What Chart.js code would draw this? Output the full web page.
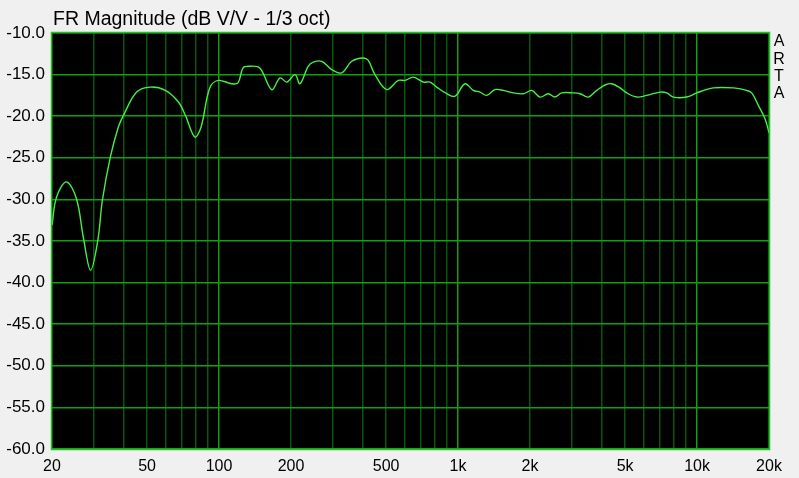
<!DOCTYPE html>
<html>
<head>
<meta charset="utf-8">
<script src="https://cdn.jsdelivr.net/npm/chart.js@4"></script>
<style>
  html, body { margin: 0; padding: 0; background: #f0f0f0; }
  #wrap { width: 799px; height: 478px; }
</style>
</head>
<body>
<div id="wrap"><canvas id="frChart" width="799" height="478"></canvas></div>
<script>
const freqs = [20, 20.9, 23.0, 25.3, 27.1, 29.0, 31.1, 32.5, 35.1, 37.9, 39.8, 45.2, 51.5, 59.6, 67.6, 72.3, 79.2, 84.1, 91.4, 99.2,
  113, 120, 126, 133, 148, 166, 180, 192, 208, 218, 236, 248, 269, 296, 326, 359, 401, 421, 449, 503,
  562, 600, 650, 716, 763, 814, 897, 971, 1069, 1158, 1236, 1318, 1428, 1547, 1703, 1875, 2033, 2202, 2386, 2545,
  2715, 3036, 3238, 3508, 3804, 4121, 4396, 4760, 5078, 5591, 6156, 7000, 7465, 7959, 9049, 9968, 11700, 14180, 16130, 16930,
  18050, 19250, 20000];
const dB = [-33.1, -29.7, -27.9, -29.9, -34.7, -38.5, -34.9, -30.1, -24.9, -21.3, -19.9, -17.1, -16.5, -16.9, -18.3, -19.9, -22.5, -21.3, -16.6, -15.7,
  -16.1, -16.0, -14.2, -14.0, -14.2, -16.8, -15.4, -15.9, -15.0, -16.1, -14.0, -13.5, -13.4, -14.4, -14.8, -13.4, -13.0, -13.3, -15.0, -16.8,
  -15.7, -15.7, -15.3, -15.9, -15.9, -16.5, -17.3, -17.6, -16.1, -16.9, -17.1, -17.5, -16.8, -16.9, -17.2, -17.3, -16.9, -17.7, -17.3, -17.7,
  -17.2, -17.2, -17.3, -17.7, -16.9, -16.25, -16.1, -16.6, -17.2, -17.7, -17.5, -17.1, -17.2, -17.7, -17.7, -17.2, -16.6, -16.6, -16.9, -17.2,
  -18.7, -20.3, -22.0];
const gridFreqs = [20, 30, 40, 50, 60, 70, 80, 90, 100, 200, 300, 400, 500, 600, 700, 800, 900,
  1000, 2000, 3000, 4000, 5000, 6000, 7000, 8000, 9000, 10000, 20000];
const xLabels = { 20: "20", 50: "50", 100: "100", 200: "200", 500: "500", 1000: "1k", 2000: "2k", 5000: "5k", 10000: "10k", 20000: "20k" };
const majorFreqs = [100, 1000, 10000];

const points = freqs.map((f, i) => ({ x: f, y: dB[i] }));
const fontFam = "'Liberation Sans', Arial, sans-serif";

const decor = {
  id: "decor",
  beforeDraw(chart) {
    const { ctx, chartArea: a } = chart;
    ctx.save();
    ctx.fillStyle = "#000";
    ctx.fillRect(a.left, a.top, a.right - a.left, a.bottom - a.top);
    ctx.restore();
  },
  afterDraw(chart) {
    const { ctx, chartArea: a } = chart;
    ctx.save();
    ctx.strokeStyle = "#22c022";
    ctx.lineWidth = 1.5;
    ctx.strokeRect(a.left - 0.5, a.top - 0.5, a.right - a.left + 1, a.bottom - a.top + 1);
    ctx.fillStyle = "#000";
    ctx.font = "19.5px " + fontFam;
    ctx.textBaseline = "alphabetic";
    ctx.textAlign = "left";
    ctx.fillText("FR Magnitude (dB V/V - 1/3 oct)", 53, 25);
    ctx.textAlign = "center";
    ctx.textBaseline = "middle";
    ctx.font = "16px " + fontFam;
    ["A", "R", "T", "A"].forEach((c, i) => ctx.fillText(c, 779, 42 + i * 17.3));
    ctx.restore();
  }
};

new Chart(document.getElementById("frChart"), {
  type: "line",
  data: {
    datasets: [{
      label: "FR",
      data: points,
      borderColor: "#44f044",
      borderWidth: 1.4,
      pointRadius: 0,
      tension: 0.35,
      fill: false
    }]
  },
  options: {
    responsive: false,
    animation: false,
    layout: { padding: { top: 33, right: 30, left: 0, bottom: 0 } },
    plugins: { legend: { display: false }, tooltip: { enabled: false } },
    scales: {
      x: {
        type: "logarithmic",
        min: 20,
        max: 20000,
        afterBuildTicks: s => { s.ticks = gridFreqs.map(v => ({ value: v })); },
        afterFit: s => { s.height = 29; },
        border: { display: false },
        grid: {
          drawTicks: false,
          color: c => majorFreqs.includes(c.tick && c.tick.value) ? "#10a010" : "#0a560a",
          lineWidth: 1.5
        },
        ticks: {
          autoSkip: false,
          maxRotation: 0,
          padding: 8,
          color: "#000",
          font: { family: fontFam, size: 16 },
          callback: v => xLabels[v] || ""
        }
      },
      y: {
        min: -60,
        max: -10,
        afterFit: s => { s.width = 52; },
        border: { display: false },
        grid: { drawTicks: false, color: "#10a010", lineWidth: 1.5 },
        ticks: {
          stepSize: 5,
          padding: 7,
          color: "#000",
          font: { family: fontFam, size: 17 },
          callback: v => v.toFixed(1)
        }
      }
    }
  },
  plugins: [decor]
});
</script>
</body>
</html>
